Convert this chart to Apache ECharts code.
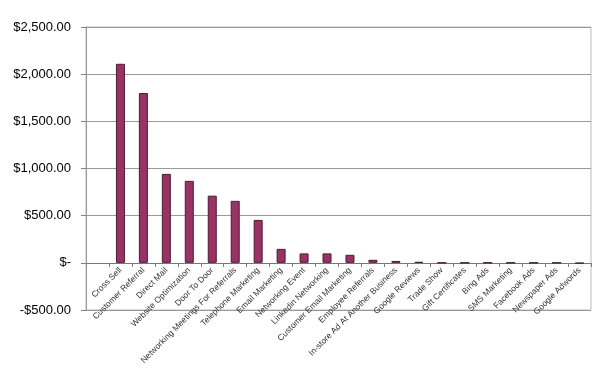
<!DOCTYPE html>
<html>
<head>
<meta charset="utf-8">
<script src="https://cdn.jsdelivr.net/npm/echarts@6/dist/echarts.min.js"></script>
<style>
  html, body { margin: 0; padding: 0; background: #fff; }
  #chart { width: 600px; height: 377px; }
</style>
</head>
<body>
<div id="chart"></div>
<script>
// categories (marketing sources) - first slot is blank in the original sheet
const categories = [
  '', 'Cross Sell', 'Customer Referral', 'Direct Mail', 'Website Optimization',
  'Door To Door', 'Networking Meetings For Referrals', 'Telephone Marketing',
  'Email Marketing', 'Networking Event', 'Linkedin Networking',
  'Customer Email Marketing', 'Employee Referrals', 'In-store Ad At Another Business',
  'Google Reviews', 'Trade Show', 'Gift Certificates', 'Bing Ads', 'SMS Marketing',
  'Facebook Ads', 'Newspaper Ads', 'Google Adwords'
]
// revenue per source
const revenue = [
  null, 2110, 1800, 943, 869, 712, 657, 455, 148, 100, 100, 85, 32, 20, 10,
  0, 0, 0, 0, 0, 0, -6
]

function money (v) {
  if (v === 0) return '$-'
  const s = Math.abs(v).toLocaleString('en-US', { minimumFractionDigits: 2, maximumFractionDigits: 2 })
  return (v < 0 ? '-$' : '$') + s
}

const chart = echarts.init(document.getElementById('chart'))
chart.setOption({
  animation: false,
  grid: {
    left: 86,
    right: 9,
    top: 27,
    bottom: 67,
    outerBoundsMode: 'none',
    show: true,
    borderColor: '#bbb',
    borderWidth: 1
  },
  xAxis: {
    type: 'category',
    data: categories,
    // category axis sits on the $0 line, 500 units above the grid bottom
    offset: -47,
    axisLine: { onZero: false, lineStyle: { color: '#777', width: 1 } },
    axisTick: { show: true, length: 4, lineStyle: { color: '#808080' } },
    axisLabel: {
      interval: 0,
      rotate: 45,
      fontSize: 8.5,
      margin: 6,
      color: '#333',
      fontFamily: 'Liberation Sans, Arial, sans-serif'
    }
  },
  yAxis: {
    type: 'value',
    min: -500,
    max: 2500,
    interval: 500,
    axisLine: { show: true, lineStyle: { color: '#999' } },
    axisTick: { show: true, inside: false, length: 5, lineStyle: { color: '#808080' } },
    splitLine: { show: true, lineStyle: { color: '#999', width: 1 } },
    axisLabel: {
      formatter: money,
      fontSize: 13,
      margin: 15,
      color: '#000',
      fontFamily: 'Liberation Sans, Arial, sans-serif'
    }
  },
  series: [{
    type: 'bar',
    data: revenue,
    barWidth: 9,
    itemStyle: {
      color: '#993366',
      borderColor: '#4d1a33',
      borderWidth: 1
    }
  }]
})
</script>
</body>
</html>
